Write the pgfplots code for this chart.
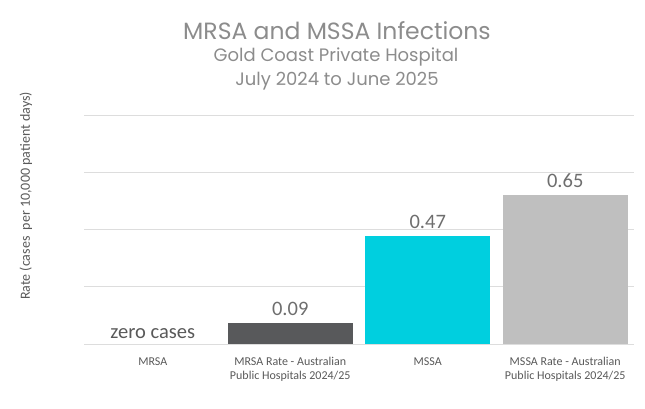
\documentclass[border=0pt]{standalone}
\usepackage{pgfplots}
\pgfplotsset{compat=1.18}
\usepackage{fontspec}
\setmainfont{Carlito}
\newfontfamily\titlefont{Poppins}
\definecolor{gridc}{HTML}{DDDDDD}
\definecolor{darkbar}{HTML}{58595B}
\definecolor{cyanbar}{HTML}{00CFDF}
\definecolor{lightbar}{HTML}{BFBFBF}
\definecolor{txt}{HTML}{595959}
\definecolor{valc}{HTML}{6E6E6E}
\definecolor{titlec}{HTML}{8C8C8C}
\begin{document}
\begin{tikzpicture}[x=1pt,y=1pt]
\path[use as bounding box] (0,0) rectangle (645,409);
\begin{axis}[
  at={(84pt,65pt)}, anchor=south west,
  scale only axis, width=550pt, height=229pt,
  xmin=-0.5, xmax=3.5, ymin=0, ymax=1,
  axis line style={draw=none},
  ytick={0,0.25,0.5,0.75,1}, yticklabels={},
  ymajorgrids, grid style={gridc, line width=0.8pt},
  xtick={0,1,2,3},
  xticklabels={MRSA, {MRSA Rate - Australian\\Public Hospitals 2024/25}, MSSA, {MSSA Rate - Australian\\Public Hospitals 2024/25}},
  xticklabel style={align=center, font=\fontsize{12}{14}\selectfont, text=txt, anchor=north, yshift=-10pt},
  major tick length=0pt,
  ybar, bar width=125pt,
  nodes near coords, point meta=explicit symbolic,
  every node near coord/.append style={font=\fontsize{20.5}{22}\selectfont, text=valc, yshift=4pt},
  clip=false,
]
\addplot[fill=white, draw=none, bar shift=0pt, every node near coord/.append style={text=txt, yshift=-2pt}] coordinates {(0,0) [zero cases]};
\addplot[fill=darkbar, draw=none, bar shift=0pt] coordinates {(1,0.09) [0.09]};
\addplot[fill=cyanbar, draw=none, bar shift=0pt] coordinates {(2,0.47) [0.47]};
\addplot[fill=lightbar, draw=none, bar shift=0pt] coordinates {(3,0.65) [0.65]};
\end{axis}
\node[font=\titlefont\fontsize{23.5}{26}\selectfont, text=titlec] at (337,378) {MRSA and MSSA Infections};
\node[font=\titlefont\fontsize{18}{20}\selectfont, text=titlec] at (336,352) {Gold Coast Private Hospital};
\node[font=\titlefont\fontsize{18}{20}\selectfont, text=titlec] at (337,328) {July 2024 to June 2025};
\node[rotate=90, font=\fontsize{14}{16}\selectfont, text=txt] at (26,213) {Rate (cases\ \ per 10,000 patient days)};
\end{tikzpicture}
\end{document}
